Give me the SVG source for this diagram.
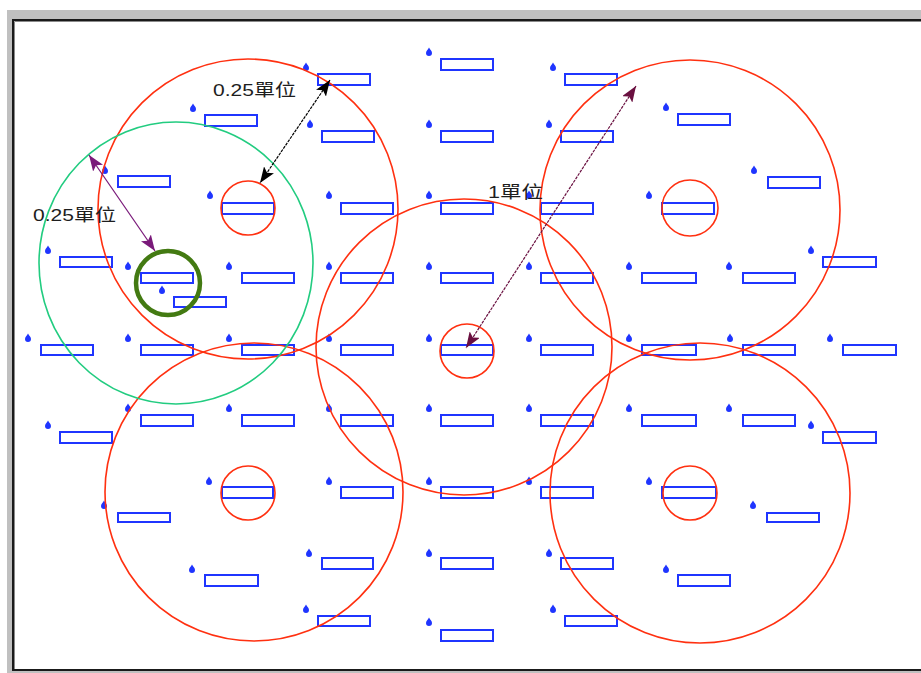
<svg xmlns="http://www.w3.org/2000/svg" xmlns:xlink="http://www.w3.org/1999/xlink" width="921" height="673" viewBox="0 0 921 673">
  <style>
    .box { fill: none; stroke: #1f35ff; stroke-width: 2; }
    .pin { fill: #1f35ff; }
    .big { fill: none; stroke: #ff3010; stroke-width: 1.6; }
    .hub { fill: none; stroke: #ff3010; stroke-width: 1.6; }
    .reach { fill: none; stroke: #22cc80; stroke-width: 1.6; }
    .focus { fill: none; stroke: #437a12; stroke-width: 4.5; }
    .lbl { font-family: 'Liberation Sans', 'Noto Sans CJK TC', sans-serif; font-size: 17px; fill: #1e1e1e; }
  </style>
  <defs>
    <path id="pin" class="pin" d="M0,-4.5 C1,-2.5 3,-1 3,1 A3,3 0 0 1 -3,1 C-3,-1 -1,-2.5 0,-4.5 Z"/>
    <marker id="headK" viewBox="0 0 16 12" refX="16" refY="6" markerWidth="16" markerHeight="12" markerUnits="userSpaceOnUse" orient="auto-start-reverse">
      <path d="M0,0 L16,6 L0,12 L3.5,6 Z" fill="#000"/>
    </marker>
    <marker id="headP" viewBox="0 0 16 12" refX="16" refY="6" markerWidth="16" markerHeight="12" markerUnits="userSpaceOnUse" orient="auto-start-reverse">
      <path d="M0,0 L16,6 L0,12 L3.5,6 Z" fill="#7a1a7a"/>
    </marker>
    <marker id="headM" viewBox="0 0 16 12" refX="16" refY="6" markerWidth="16" markerHeight="12" markerUnits="userSpaceOnUse" orient="auto-start-reverse">
      <path d="M0,0 L16,6 L0,12 L3.5,6 Z" fill="#6a1040"/>
    </marker>
  </defs>

  <!-- window frame -->
  <rect x="7" y="10" width="914" height="663" fill="#c0c0c0"/>
  <rect x="13" y="20" width="920" height="650" fill="#ffffff" stroke="#1a1a1a" stroke-width="2"/>
  <path d="M14.5,669 V21.5 H921" fill="none" stroke="#8a8a8a" stroke-width="1"/>

  <!-- nodes: one box with its marker pin -->
  <g id="nodes">
    <g id="n1"><use href="#pin" x="306" y="67"/><rect class="box" x="318" y="74" width="52" height="11"/></g>
    <g id="n2"><use href="#pin" x="429" y="52"/><rect class="box" x="441" y="59" width="52" height="11"/></g>
    <g id="n3"><use href="#pin" x="553" y="67"/><rect class="box" x="565" y="74" width="52" height="11"/></g>
    <g id="n4"><use href="#pin" x="193" y="108"/><rect class="box" x="205" y="115" width="52" height="11"/></g>
    <g id="n5"><use href="#pin" x="310" y="124"/><rect class="box" x="322" y="131" width="52" height="11"/></g>
    <g id="n6"><use href="#pin" x="429" y="124"/><rect class="box" x="441" y="131" width="52" height="11"/></g>
    <g id="n7"><use href="#pin" x="549" y="124"/><rect class="box" x="561" y="131" width="52" height="11"/></g>
    <g id="n8"><use href="#pin" x="666" y="107"/><rect class="box" x="678" y="114" width="52" height="11"/></g>
    <g id="n9"><use href="#pin" x="105" y="170"/><rect class="box" x="118" y="176" width="52" height="11"/></g>
    <g id="n10"><use href="#pin" x="210" y="195"/><rect class="box" x="222" y="203" width="52" height="11"/></g>
    <g id="n11"><use href="#pin" x="329" y="195"/><rect class="box" x="341" y="203" width="52" height="11"/></g>
    <g id="n12"><use href="#pin" x="429" y="195"/><rect class="box" x="441" y="203" width="52" height="11"/></g>
    <g id="n13"><use href="#pin" x="529" y="195"/><rect class="box" x="541" y="203" width="52" height="11"/></g>
    <g id="n14"><use href="#pin" x="649" y="195"/><rect class="box" x="662" y="203" width="52" height="11"/></g>
    <g id="n15"><use href="#pin" x="754" y="170"/><rect class="box" x="768" y="177" width="52" height="11"/></g>
    <g id="n16"><use href="#pin" x="48" y="250"/><rect class="box" x="60" y="257" width="52" height="10"/></g>
    <g id="n17"><use href="#pin" x="128" y="266"/><rect class="box" x="141" y="273" width="52" height="10"/></g>
    <g id="n18"><use href="#pin" x="162" y="290"/><rect class="box" x="174" y="297" width="52" height="10"/></g>
    <g id="n19"><use href="#pin" x="229" y="266"/><rect class="box" x="242" y="273" width="52" height="10"/></g>
    <g id="n20"><use href="#pin" x="329" y="266"/><rect class="box" x="341" y="273" width="52" height="10"/></g>
    <g id="n21"><use href="#pin" x="429" y="266"/><rect class="box" x="441" y="273" width="52" height="10"/></g>
    <g id="n22"><use href="#pin" x="529" y="266"/><rect class="box" x="541" y="273" width="52" height="10"/></g>
    <g id="n23"><use href="#pin" x="629" y="266"/><rect class="box" x="642" y="273" width="54" height="10"/></g>
    <g id="n24"><use href="#pin" x="729" y="266"/><rect class="box" x="743" y="273" width="52" height="10"/></g>
    <g id="n25"><use href="#pin" x="811" y="250"/><rect class="box" x="823" y="257" width="53" height="10"/></g>
    <g id="n26"><use href="#pin" x="28" y="338"/><rect class="box" x="41" y="345" width="52" height="10"/></g>
    <g id="n27"><use href="#pin" x="128" y="338"/><rect class="box" x="141" y="345" width="52" height="10"/></g>
    <g id="n28"><use href="#pin" x="229" y="338"/><rect class="box" x="242" y="345" width="52" height="10"/></g>
    <g id="n29"><use href="#pin" x="329" y="338"/><rect class="box" x="341" y="345" width="52" height="10"/></g>
    <g id="n30"><use href="#pin" x="429" y="338"/><rect class="box" x="441" y="345" width="52" height="10"/></g>
    <g id="n31"><use href="#pin" x="529" y="338"/><rect class="box" x="541" y="345" width="52" height="10"/></g>
    <g id="n32"><use href="#pin" x="629" y="338"/><rect class="box" x="642" y="345" width="54" height="10"/></g>
    <g id="n33"><use href="#pin" x="730" y="338"/><rect class="box" x="743" y="345" width="52" height="10"/></g>
    <g id="n34"><use href="#pin" x="830" y="338"/><rect class="box" x="843" y="345" width="53" height="10"/></g>
    <g id="n35"><use href="#pin" x="48" y="425"/><rect class="box" x="60" y="432" width="52" height="11"/></g>
    <g id="n36"><use href="#pin" x="128" y="408"/><rect class="box" x="141" y="415" width="52" height="11"/></g>
    <g id="n37"><use href="#pin" x="229" y="408"/><rect class="box" x="242" y="415" width="52" height="11"/></g>
    <g id="n38"><use href="#pin" x="329" y="408"/><rect class="box" x="341" y="415" width="52" height="11"/></g>
    <g id="n39"><use href="#pin" x="429" y="408"/><rect class="box" x="441" y="415" width="52" height="11"/></g>
    <g id="n40"><use href="#pin" x="529" y="408"/><rect class="box" x="541" y="415" width="52" height="11"/></g>
    <g id="n41"><use href="#pin" x="629" y="408"/><rect class="box" x="642" y="415" width="54" height="11"/></g>
    <g id="n42"><use href="#pin" x="729" y="408"/><rect class="box" x="743" y="415" width="52" height="11"/></g>
    <g id="n43"><use href="#pin" x="811" y="425"/><rect class="box" x="823" y="432" width="53" height="11"/></g>
    <g id="n44"><use href="#pin" x="104" y="505"/><rect class="box" x="118" y="513" width="52" height="9"/></g>
    <g id="n45"><use href="#pin" x="209" y="481"/><rect class="box" x="222" y="487" width="51" height="11"/></g>
    <g id="n46"><use href="#pin" x="329" y="481"/><rect class="box" x="341" y="487" width="52" height="11"/></g>
    <g id="n47"><use href="#pin" x="429" y="481"/><rect class="box" x="441" y="487" width="52" height="11"/></g>
    <g id="n48"><use href="#pin" x="529" y="481"/><rect class="box" x="541" y="487" width="52" height="11"/></g>
    <g id="n49"><use href="#pin" x="649" y="481"/><rect class="box" x="662" y="487" width="54" height="11"/></g>
    <g id="n50"><use href="#pin" x="753" y="505"/><rect class="box" x="767" y="513" width="52" height="9"/></g>
    <g id="n51"><use href="#pin" x="192" y="569"/><rect class="box" x="205" y="575" width="53" height="11"/></g>
    <g id="n52"><use href="#pin" x="309" y="553"/><rect class="box" x="322" y="558" width="51" height="11"/></g>
    <g id="n53"><use href="#pin" x="429" y="553"/><rect class="box" x="441" y="558" width="52" height="11"/></g>
    <g id="n54"><use href="#pin" x="549" y="553"/><rect class="box" x="561" y="558" width="52" height="11"/></g>
    <g id="n55"><use href="#pin" x="666" y="569"/><rect class="box" x="678" y="575" width="52" height="11"/></g>
    <g id="n56"><use href="#pin" x="306" y="609"/><rect class="box" x="318" y="616" width="52" height="10"/></g>
    <g id="n57"><use href="#pin" x="429" y="622"/><rect class="box" x="441" y="630" width="52" height="11"/></g>
    <g id="n58"><use href="#pin" x="553" y="609"/><rect class="box" x="565" y="616" width="52" height="10"/></g>
  </g>

  <!-- coverage rings: large range and small hub around each station -->
  <g id="rings">
    <circle class="big" cx="248" cy="209" r="150"/>
    <circle class="big" cx="690" cy="210" r="150"/>
    <circle class="big" cx="464" cy="347" r="148"/>
    <circle class="big" cx="254" cy="492" r="149"/>
    <circle class="big" cx="700" cy="493" r="150"/>
    <circle class="hub" cx="248" cy="208" r="27"/>
    <circle class="hub" cx="690" cy="208" r="28"/>
    <circle class="hub" cx="467" cy="351" r="27"/>
    <circle class="hub" cx="248" cy="493" r="27"/>
    <circle class="hub" cx="690" cy="493" r="27"/>
    <ellipse class="reach" cx="176" cy="263" rx="137" ry="141"/>
    <circle class="focus" cx="168" cy="283" r="32"/>
  </g>

  <!-- connectors: distance arrows -->
  <g id="connectors">
    <line x1="330" y1="80" x2="260" y2="183" stroke="#000" stroke-width="1.2" stroke-dasharray="3 1" marker-start="url(#headK)" marker-end="url(#headK)"/>
    <line x1="89" y1="155" x2="155" y2="251" stroke="#7a1a7a" stroke-width="1.2" marker-start="url(#headP)" marker-end="url(#headP)"/>
    <line x1="636" y1="86" x2="466" y2="348" stroke="#6a1040" stroke-width="1.2" stroke-dasharray="3 1" marker-start="url(#headM)" marker-end="url(#headM)"/>
  </g>

  <!-- labels -->
  <g id="labels">
    <text class="lbl" x="213" y="96" textLength="83" lengthAdjust="spacingAndGlyphs">0.25單位</text>
    <text class="lbl" x="33" y="221" textLength="83" lengthAdjust="spacingAndGlyphs">0.25單位</text>
    <text class="lbl" x="488" y="198" textLength="55" lengthAdjust="spacingAndGlyphs">1單位</text>
  </g>
</svg>
